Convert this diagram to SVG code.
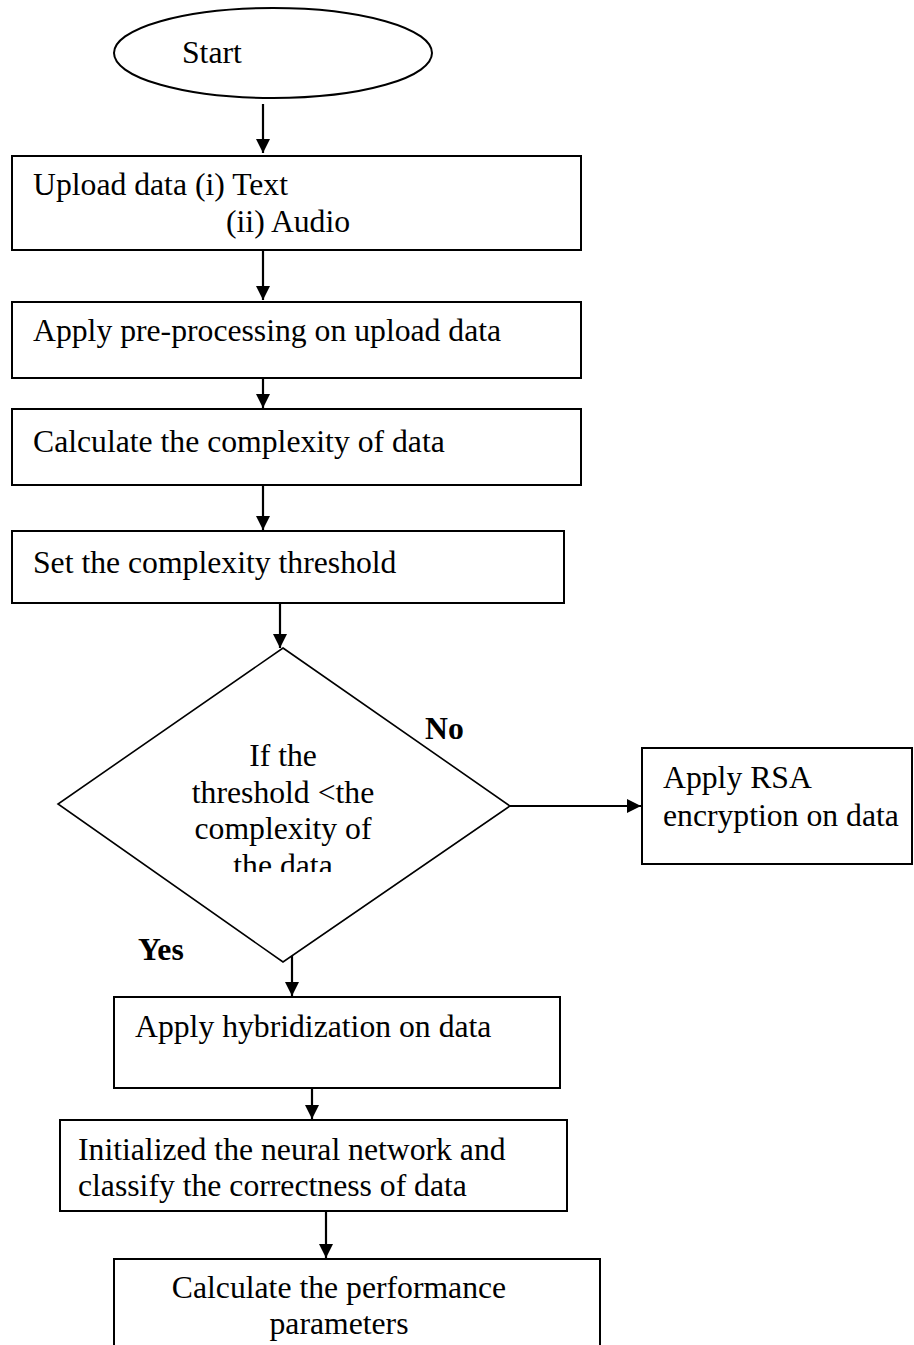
<svg xmlns="http://www.w3.org/2000/svg" width="914" height="1345" viewBox="0 0 914 1345">
<style>
  .shape { fill: #ffffff; stroke: #000000; stroke-width: 2; }
  .dia { fill: #ffffff; stroke: #000000; stroke-width: 1.6; }
  .t { font-family: "Liberation Serif", "Times New Roman", serif; font-size: 31.7px; fill: #000000; }
  .b { font-weight: bold; }
  .conn { stroke: #000000; stroke-width: 2.2; fill: none; }
</style>
<defs>
  <marker id="arr" viewBox="0 0 14 15" refX="14" refY="7" markerWidth="14" markerHeight="15" markerUnits="userSpaceOnUse" orient="auto">
    <path d="M0,0 L14,7 L0,14 Z" fill="#000000"/>
  </marker>
  <clipPath id="diaclip"><rect x="0" y="600" width="914" height="272"/></clipPath>
</defs>
<rect width="914" height="1345" fill="#ffffff"/>

<g id="connectors">
  <line class="conn" x1="263" y1="104" x2="263" y2="153" marker-end="url(#arr)"/>
  <line class="conn" x1="263" y1="250" x2="263" y2="300" marker-end="url(#arr)"/>
  <line class="conn" x1="263" y1="378" x2="263" y2="408" marker-end="url(#arr)"/>
  <line class="conn" x1="263" y1="485" x2="263" y2="530" marker-end="url(#arr)"/>
  <line class="conn" x1="280" y1="603" x2="280" y2="648" marker-end="url(#arr)"/>
  <line class="conn" x1="510" y1="806" x2="641" y2="806" marker-end="url(#arr)"/>
  <line class="conn" x1="292" y1="952" x2="292" y2="996" marker-end="url(#arr)"/>
  <line class="conn" x1="312" y1="1088" x2="312" y2="1119" marker-end="url(#arr)"/>
  <line class="conn" x1="326" y1="1211" x2="326" y2="1258" marker-end="url(#arr)"/>
</g>

<g id="start">
  <ellipse class="shape" cx="273" cy="53" rx="159" ry="45"/>
  <text class="t" x="182" y="63">Start</text>
</g>

<g id="upload">
  <rect class="shape" x="12" y="156" width="569" height="94"/>
  <text class="t" x="33" y="195">Upload data (i) Text</text>
  <text class="t" x="226" y="232">(ii) Audio</text>
</g>

<g id="preprocess">
  <rect class="shape" x="12" y="302" width="569" height="76"/>
  <text class="t" x="33" y="341">Apply pre-processing on upload data</text>
</g>

<g id="complexity">
  <rect class="shape" x="12" y="409" width="569" height="76"/>
  <text class="t" x="33" y="452">Calculate the complexity of data</text>
</g>

<g id="threshold">
  <rect class="shape" x="12" y="531" width="552" height="72"/>
  <text class="t" x="33" y="573">Set the complexity threshold</text>
</g>

<g id="decision">
  <polygon class="dia" points="283,648 510,806 283,962 58,804"/>
  <g clip-path="url(#diaclip)">
    <text class="t" text-anchor="middle" x="283" y="766">If the</text>
    <text class="t" text-anchor="middle" x="283" y="803">threshold &lt;the</text>
    <text class="t" text-anchor="middle" x="283" y="839">complexity of</text>
    <text class="t" text-anchor="middle" x="283" y="876">the data</text>
  </g>
  <text class="t b" x="425" y="739">No</text>
  <text class="t b" x="138" y="960">Yes</text>
</g>

<g id="rsa">
  <rect class="shape" x="642" y="748" width="270" height="116"/>
  <text class="t" x="663" y="788">Apply RSA</text>
  <text class="t" x="663" y="826">encryption on data</text>
</g>

<g id="hybrid">
  <rect class="shape" x="114" y="997" width="446" height="91"/>
  <text class="t" x="135" y="1037">Apply hybridization on data</text>
</g>

<g id="neural">
  <rect class="shape" x="60" y="1120" width="507" height="91"/>
  <text class="t" x="78" y="1160">Initialized the neural network and</text>
  <text class="t" x="78" y="1196">classify the correctness of data</text>
</g>

<g id="performance">
  <rect class="shape" x="114" y="1259" width="486" height="100"/>
  <text class="t" text-anchor="middle" x="339" y="1298">Calculate the performance</text>
  <text class="t" text-anchor="middle" x="339" y="1334">parameters</text>
</g>
</svg>
